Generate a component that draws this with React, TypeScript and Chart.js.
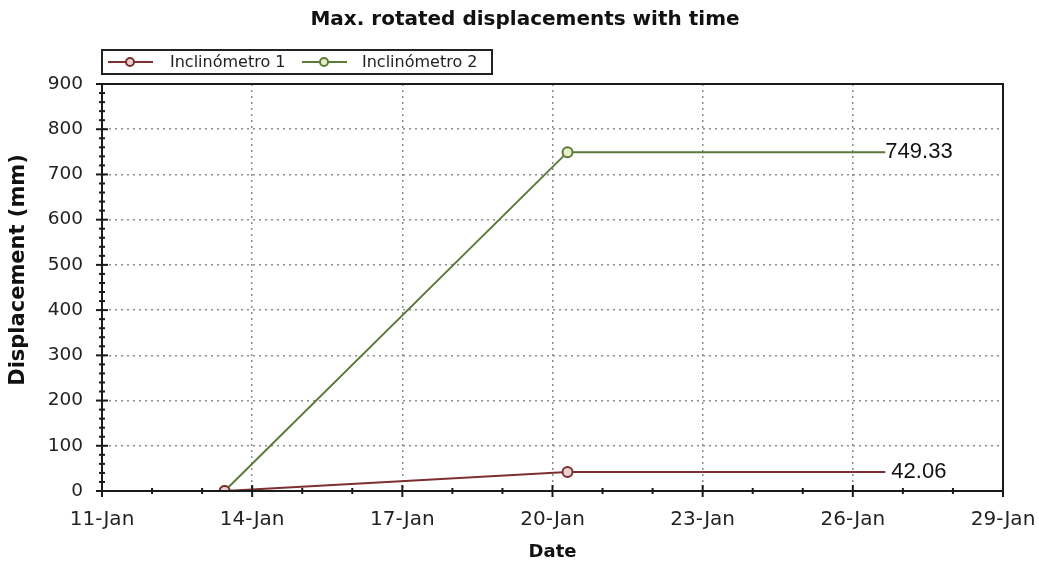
import React, { useEffect, useRef } from "react";
import { Chart, registerables } from "chart.js";

Chart.register(...registerables);

// Reading dates expressed as day-of-January
const days = [13.45, 20.3, 26.65];
const inclinometro1 = [0, 42.06, 42.06];
const inclinometro2 = [0, 749.33, 749.33];
const seriesNames = ["Inclinómetro 1", "Inclinómetro 2"];
const seriesColors = ["#7d2f2f", "#5c7a3a"];
const markerFills = ["#e9d2d2", "#e8f0c8"];
const endLabels = ["42.06", "749.33"];
const chartTitle = "Max. rotated displacements with time";
const xTitle = "Date";
const yTitle = "Displacement (mm)";

const ARIAL = "'Liberation Sans', Arial, sans-serif";
const SANS = "'DejaVu Sans', Verdana, sans-serif";

const decorPlugin = {
  id: "decor",
  afterDraw(chart: any) {
    const { ctx, chartArea: a, scales } = chart;
    const x = scales.x;
    const y = scales.y;
    ctx.save();

    // plot frame
    ctx.strokeStyle = "#1a1a1a";
    ctx.lineWidth = 2;
    ctx.strokeRect(a.left, a.top, a.right - a.left, a.bottom - a.top);

    // tick marks on the axes
    ctx.lineWidth = 2;
    for (let d = 11; d <= 29; d += 1) {
      const px = x.getPixelForValue(d);
      const len = (d - 11) % 3 === 0 ? 6 : 3;
      ctx.beginPath();
      ctx.moveTo(px, a.bottom - len);
      ctx.lineTo(px, a.bottom + len);
      ctx.stroke();
    }
    for (let v = 0; v <= 900; v += 20) {
      const py = y.getPixelForValue(v);
      const len = v % 100 === 0 ? 6 : 3;
      ctx.beginPath();
      ctx.moveTo(a.left - len, py);
      ctx.lineTo(a.left + len, py);
      ctx.stroke();
    }

    // end-of-line value labels
    ctx.fillStyle = "#111";
    ctx.font = `22px ${ARIAL}`;
    ctx.textBaseline = "middle";
    ctx.textAlign = "left";
    const lastX = x.getPixelForValue(days[days.length - 1]);
    ctx.fillText(endLabels[0], lastX + 6, y.getPixelForValue(inclinometro1[inclinometro1.length - 1]));
    ctx.fillText(endLabels[1], lastX + 0, y.getPixelForValue(inclinometro2[inclinometro2.length - 1]));

    // chart title
    ctx.textAlign = "center";
    ctx.font = `bold 20px ${SANS}`;
    ctx.fillText(chartTitle, 525, 20);

    // axis titles
    ctx.font = `bold 18px ${SANS}`;
    ctx.fillText(xTitle, (a.left + a.right) / 2, 552);
    ctx.save();
    ctx.translate(19, 270);
    ctx.rotate(-Math.PI / 2);
    ctx.font = `bold 21px ${SANS}`;
    ctx.fillText(yTitle, 0, 0);
    ctx.restore();

    // legend
    const lx = a.left;
    const ly = 50;
    ctx.strokeStyle = "#222";
    ctx.lineWidth = 2;
    ctx.strokeRect(lx, ly, 390, 24);
    const items = [
      { x0: lx + 6, text: lx + 68 },
      { x0: lx + 200, text: lx + 260 },
    ];
    items.forEach((it, i) => {
      const cy = ly + 12;
      ctx.strokeStyle = seriesColors[i];
      ctx.lineWidth = 2;
      ctx.beginPath();
      ctx.moveTo(it.x0, cy);
      ctx.lineTo(it.x0 + 45, cy);
      ctx.stroke();
      ctx.beginPath();
      ctx.arc(it.x0 + 22, cy, 4, 0, Math.PI * 2);
      ctx.fillStyle = markerFills[i];
      ctx.fill();
      ctx.stroke();
      ctx.fillStyle = "#222";
      ctx.font = `16px ${SANS}`;
      ctx.textAlign = "left";
      ctx.fillText(seriesNames[i], it.text, cy + 1);
    });

    ctx.restore();
  },
};

export default function App() {
  const ref = useRef<HTMLCanvasElement>(null);

  useEffect(() => {
    document.body.style.margin = "0";
    const canvas = ref.current;
    if (!canvas) return;
    const radii = [5, 5, 0];
    const chart = new Chart(canvas, {
      type: "line",
      data: {
        datasets: [
          {
            label: seriesNames[0],
            data: days.map((d, i) => ({ x: d, y: inclinometro1[i] })),
            borderColor: seriesColors[0],
            backgroundColor: markerFills[0],
            pointBackgroundColor: markerFills[0],
            pointBorderColor: seriesColors[0],
            pointRadius: radii,
            pointBorderWidth: 2,
            borderWidth: 2,
            tension: 0,
          },
          {
            label: seriesNames[1],
            data: days.map((d, i) => ({ x: d, y: inclinometro2[i] })),
            borderColor: seriesColors[1],
            backgroundColor: markerFills[1],
            pointBackgroundColor: markerFills[1],
            pointBorderColor: seriesColors[1],
            pointRadius: radii,
            pointBorderWidth: 2,
            borderWidth: 2,
            tension: 0,
          },
        ],
      },
      options: {
        responsive: false,
        animation: false,
        layout: { padding: { left: 0, right: 36, top: 84, bottom: 0 } },
        plugins: {
          legend: { display: false },
          title: { display: false },
          tooltip: { enabled: false },
        },
        scales: {
          x: {
            type: "linear",
            min: 11,
            max: 29,
            afterFit(scale: any) {
              scale.height = 74;
              scale.paddingLeft = 0;
              scale.paddingRight = 0;
            },
            ticks: {
              stepSize: 3,
              padding: 17,
              color: "#222",
              font: { family: SANS, size: 20 },
              callback: (v: any) => `${v}-Jan`,
              maxRotation: 0,
              autoSkip: false,
            },
            grid: {
              drawTicks: false,
              color: "#8c8c8c",
              lineWidth: 1.5,
            },
            border: { display: true, color: "#1a1a1a", width: 2, dash: [2, 4] },
          },
          y: {
            min: 0,
            max: 900,
            afterFit(scale: any) {
              scale.width = 102;
              scale.paddingTop = 0;
              scale.paddingBottom = 0;
            },
            ticks: {
              stepSize: 100,
              padding: 19,
              color: "#222",
              font: { family: SANS, size: 18.5 },
            },
            grid: {
              drawTicks: false,
              color: "#8c8c8c",
              lineWidth: 1.5,
            },
            border: { display: true, color: "#1a1a1a", width: 2, dash: [2, 4] },
          },
        },
      },
      plugins: [decorPlugin],
    } as any);
    return () => chart.destroy();
  }, []);

  return <canvas ref={ref} width={1039} height={565} style={{ display: "block" }} />;
}
